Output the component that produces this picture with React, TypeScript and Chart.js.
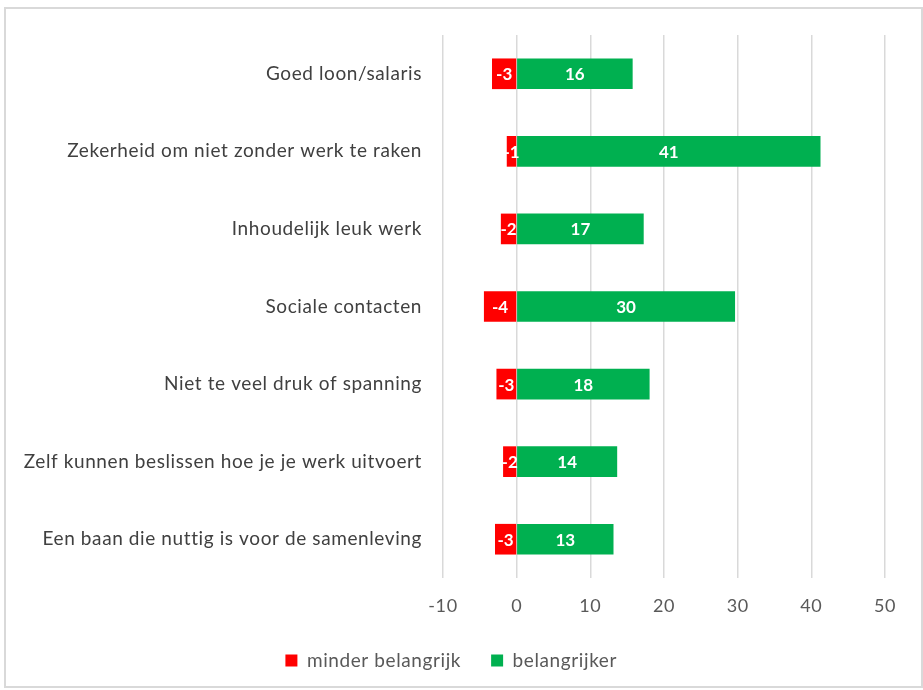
import React, { useEffect, useRef } from "react";
import { Chart, registerables } from "chart.js";

Chart.register(...registerables);

const categories = [
  "Goed loon/salaris",
  "Zekerheid om niet zonder werk te raken",
  "Inhoudelijk leuk werk",
  "Sociale contacten",
  "Niet te veel druk of spanning",
  "Zelf kunnen beslissen hoe je je werk uitvoert",
  "Een baan die nuttig is voor de samenleving",
];
const minderBelangrijk = [-3.3, -1.3, -2.1, -4.4, -2.7, -1.8, -2.9];
const belangrijker = [15.7, 41.2, 17.2, 29.6, 18.0, 13.6, 13.1];
const xTicks = [-10, 0, 10, 20, 30, 40, 50];

const FONT = "Lato, 'Open Sans', sans-serif";

const spacingPlugin = {
  id: "spacing",
  beforeDraw(chart: any) {
    chart.ctx.letterSpacing = "0.6px";
  },
};

const labelPlugin = {
  id: "barLabels",
  afterDatasetsDraw(chart: any) {
    const ctx = chart.ctx;
    ctx.save();
    ctx.letterSpacing = "0px";
    ctx.font = `bold 17px ${FONT}`;
    ctx.fillStyle = "#ffffff";
    ctx.textAlign = "center";
    ctx.textBaseline = "middle";
    chart.data.datasets.forEach((ds: any, di: number) => {
      const meta = chart.getDatasetMeta(di);
      meta.data.forEach((bar: any, i: number) => {
        const v = ds.data[i];
        const cx = (bar.x + bar.base) / 2;
        ctx.fillText(String(Math.round(v)), cx, bar.y + 1);
      });
    });
    ctx.restore();
  },
};

export default function App() {
  const ref = useRef<HTMLCanvasElement>(null);
  useEffect(() => {
    const chart = new Chart(ref.current!, {
      type: "bar",
      data: {
        labels: categories,
        datasets: [
          {
            label: "minder belangrijk",
            data: minderBelangrijk,
            backgroundColor: "#ff0000",
            barThickness: 30,
          },
          {
            label: "belangrijker",
            data: belangrijker,
            backgroundColor: "#00b050",
            barThickness: 30,
          },
        ],
      },
      options: {
        indexAxis: "y",
        animation: false,
        responsive: false,
        maintainAspectRatio: false,
        layout: { padding: { left: 0, right: 38, top: 35, bottom: 10 } },
        scales: {
          x: {
            stacked: true,
            min: -10,
            max: 50,
            afterBuildTicks(scale: any) {
              scale.ticks = xTicks.map((v) => ({ value: v }));
            },
            grid: { color: "#d9d9d9", lineWidth: 1.5, drawTicks: false },
            border: { display: false },
            ticks: {
              color: "#595959",
              font: { family: FONT, size: 18 },
              padding: 17,
            },
            afterFit(scale: any) {
              scale.height = 43;
            },
          },
          y: {
            stacked: true,
            grid: { display: false, drawTicks: false },
            border: { display: false },
            ticks: {
              color: "#404040",
              font: { family: FONT, size: 19 },
              padding: 21,
            },
            afterFit(scale: any) {
              scale.width = 443;
            },
          },
        },
        plugins: {
          legend: {
            position: "bottom",
            labels: {
              color: "#595959",
              font: { family: FONT, size: 19 },
              boxWidth: 12,
              boxHeight: 12,
              padding: 30,
            },
          },
          tooltip: { enabled: false },
        },
      },
      plugins: [spacingPlugin, labelPlugin],
    });
    return () => chart.destroy();
  }, []);
  return (
    <div style={{ position: "fixed", left: 0, top: 0, width: 923, height: 690, background: "#fff" }}>
      <canvas ref={ref} width={923} height={690} style={{ position: "absolute", left: 0, top: 0 }} />
      <div
        style={{
          position: "absolute",
          left: 4,
          top: 7,
          width: 915,
          height: 677,
          border: "2px solid #d9d9d9",
          pointerEvents: "none",
        }}
      />
    </div>
  );
}
